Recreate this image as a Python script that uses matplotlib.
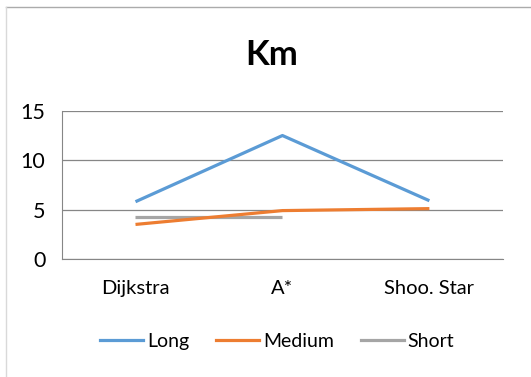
import matplotlib
matplotlib.use("Agg")
import matplotlib.pyplot as plt
from matplotlib.lines import Line2D

plt.rcParams['font.family'] = ['Lato', 'DejaVu Sans']

# distances per algorithm, one list per route length
algorithms = ['Dijkstra', 'A*', 'Shoo. Star']
long_km = [5.8, 12.5, 5.9]
medium_km = [3.5, 4.9, 5.1]
short_km = [4.3, 4.3]

fig = plt.figure(figsize=(5.31, 3.77), dpi=100)
ax = fig.add_axes([0.1168, 0.313, 0.8302, 0.393])

x = range(len(algorithms))
ax.plot(x, long_km, color='#5B9BD5', lw=2.3, solid_capstyle='butt', label='Long', zorder=3)
ax.plot(x, medium_km, color='#ED7D31', lw=2.3, solid_capstyle='butt', label='Medium', zorder=3)
ax.plot(range(len(short_km)), short_km, color='#A5A5A5', lw=2.3, solid_capstyle='butt', label='Short', zorder=2)

ax.set_xlim(-0.5, 2.5)
ax.set_ylim(0, 15)
ax.set_yticks([0, 5, 10, 15])
ax.set_xticks(list(x))
ax.set_xticklabels(algorithms, fontsize=14.5)
ax.tick_params(axis='y', labelsize=15.5, length=0, pad=12)
ax.tick_params(axis='x', length=0, pad=15)
ax.grid(axis='y', color='#868686', lw=0.9)
for s in ['top', 'right']:
    ax.spines[s].set_visible(False)
ax.spines['left'].set_color('#868686')
ax.spines['bottom'].set_color('#868686')

fig.text(0.512, 0.853, 'Km', fontsize=25, fontweight='bold', ha='center', va='center')

handles = [Line2D([], [], color=c, lw=2.3) for c in ['#5B9BD5', '#ED7D31', '#A5A5A5']]
fig.legend(handles, ['Long', 'Medium', 'Short'], loc='center', bbox_to_anchor=(0.522, 0.094),
           ncol=3, frameon=False, fontsize=14, handlelength=2.2, handletextpad=0.2,
           columnspacing=1.4)

# chart frame (top and left edges)
fig.add_artist(Line2D([0.011, 1.0], [0.981, 0.981], color='#ABABAB', lw=1.0))
fig.add_artist(Line2D([0.011, 0.011], [0.0, 0.981], color='#D9D9D9', lw=1.0))

fig.savefig('out.png', dpi=100)
